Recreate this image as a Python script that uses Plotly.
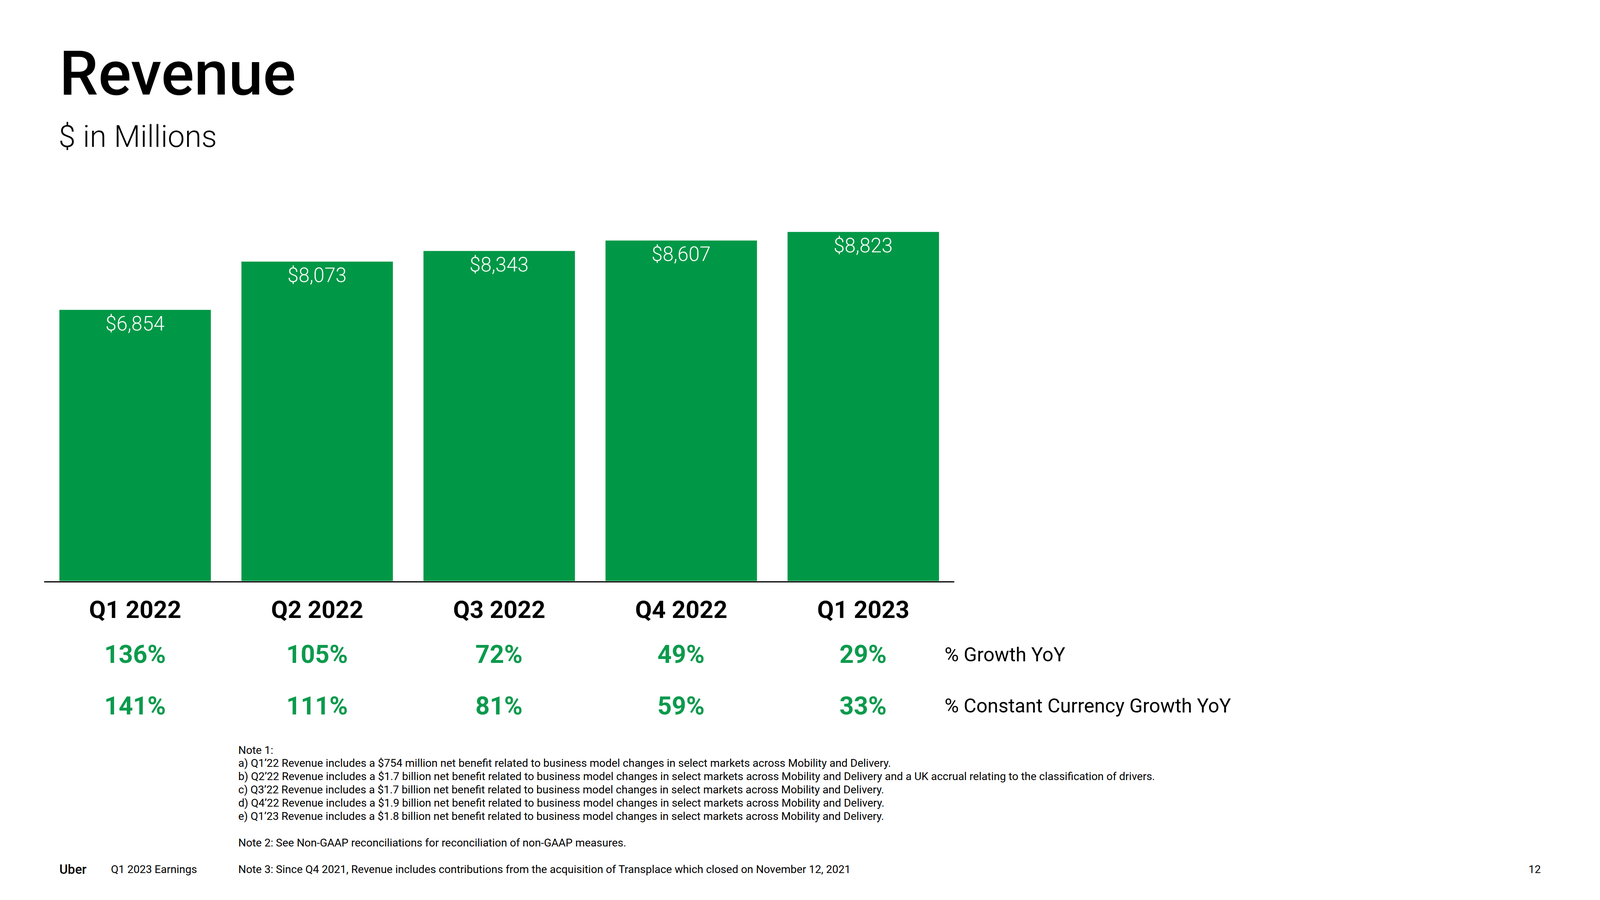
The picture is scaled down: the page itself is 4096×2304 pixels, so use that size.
import plotly.graph_objects as go

# ---------------- data ----------------
categories = ["Q1 2022", "Q2 2022", "Q3 2022", "Q4 2022", "Q1 2023"]
revenue = [6854, 8073, 8343, 8607, 8823]
growth_yoy = [136, 105, 72, 49, 29]
cc_growth_yoy = [141, 111, 81, 59, 33]
row_labels = ["% Growth YoY", "% Constant Currency Growth YoY"]

title = "Revenue"
subtitle = "$ in Millions"
notes = [
    "Note 1:",
    "a) Q1\u201922 Revenue includes a $754 million net benefit related to business model changes in select markets across Mobility and Delivery.",
    "b) Q2\u201922 Revenue includes a $1.7 billion net benefit related to business model changes in select markets across Mobility and Delivery and a UK accrual relating to the classification of drivers.",
    "c) Q3\u201922 Revenue includes a $1.7 billion net benefit related to business model changes in select markets across Mobility and Delivery.",
    "d) Q4\u201922 Revenue includes a $1.9 billion net benefit related to business model changes in select markets across Mobility and Delivery.",
    "e) Q1\u201923 Revenue includes a $1.8 billion net benefit related to business model changes in select markets across Mobility and Delivery.",
    "Note 2: See Non-GAAP reconciliations for reconciliation of non-GAAP measures.",
    "Note 3: Since Q4 2021, Revenue includes contributions from the acquisition of Transplace which closed on November 12, 2021",
]
footer_brand = "Uber"
footer_title = "Q1 2023 Earnings"
page_number = "12"

# ---------------- style ----------------
W, H = 4096, 2304
OFF = 8  # page body margin
GREEN = "#009846"
PCT_GREEN = "#0C9A4D"
FONT = "Roboto"


def py(y_px):
    """page pixel row (from top) -> paper fraction"""
    return (H - (y_px - OFF)) / H


def px_(x_px):
    return (x_px - OFF) / W


fig = go.Figure()
fig.add_trace(
    go.Bar(
        x=categories,
        y=revenue,
        marker=dict(color=GREEN, line=dict(width=0)),
        hoverinfo="skip",
    )
)

annotations = []

# bar value labels
for c, v in zip(categories, revenue):
    annotations.append(dict(
        x=c, y=v, xref="x", yref="y", text=f"${v:,}", showarrow=False,
        xanchor="center", yanchor="middle", yshift=-35,
        font=dict(family=FONT, size=51, color="white", weight=300),
    ))

# category labels and growth rows
for c, g1, g2 in zip(categories, growth_yoy, cc_growth_yoy):
    annotations.append(dict(
        x=c, y=py(1560), xref="x", yref="paper", text=c, showarrow=False,
        xanchor="center", yanchor="middle",
        font=dict(family=FONT, size=62, color="black", weight=700),
    ))
    annotations.append(dict(
        x=c, y=py(1676), xref="x", yref="paper", text=f"{g1}%", showarrow=False,
        xanchor="center", yanchor="middle",
        font=dict(family=FONT, size=64, color=PCT_GREEN, weight=700),
    ))
    annotations.append(dict(
        x=c, y=py(1807), xref="x", yref="paper", text=f"{g2}%", showarrow=False,
        xanchor="center", yanchor="middle",
        font=dict(family=FONT, size=64, color=PCT_GREEN, weight=700),
    ))

for lbl, yy in zip(row_labels, [1676, 1807]):
    annotations.append(dict(
        x=px_(2416), y=py(yy), xref="paper", yref="paper", text=lbl, showarrow=False,
        xanchor="left", yanchor="middle",
        font=dict(family=FONT, size=50, color="black", weight=400),
    ))

# title / subtitle
annotations.append(dict(
    x=px_(150), y=py(188), xref="paper", yref="paper", text=title, showarrow=False,
    xanchor="left", yanchor="middle",
    font=dict(family=FONT, size=158, color="black", weight=500),
))
annotations.append(dict(
    x=px_(148), y=py(349), xref="paper", yref="paper", text=subtitle, showarrow=False,
    xanchor="left", yanchor="middle",
    font=dict(family=FONT, size=78, color="black", weight=300),
))

# notes
note_rows = [2500, 2544, 2588, 2632, 2677, 2721, 2809, 2898]
for t, yy in zip(notes, note_rows):
    annotations.append(dict(
        x=px_(608), y=py(yy * 0.768), xref="paper", yref="paper", text=t, showarrow=False,
        xanchor="left", yanchor="middle",
        font=dict(family=FONT, size=28, color="black", weight=400),
    ))

# footer
annotations.append(dict(
    x=px_(150), y=py(2898 * 0.768), xref="paper", yref="paper", text=footer_brand, showarrow=False,
    xanchor="left", yanchor="middle",
    font=dict(family=FONT, size=33, color="black", weight=500),
))
annotations.append(dict(
    x=px_(282), y=py(2898 * 0.768), xref="paper", yref="paper", text=footer_title, showarrow=False,
    xanchor="left", yanchor="middle",
    font=dict(family=FONT, size=28, color="black", weight=400),
))
annotations.append(dict(
    x=px_(3928), y=py(2898 * 0.768), xref="paper", yref="paper", text=page_number, showarrow=False,
    xanchor="center", yanchor="middle",
    font=dict(family=FONT, size=28, color="black", weight=400),
))

x0, x1 = 112.9, 2443.0
y_base = 1487.6
px_per_unit = 0.10130
y_max = 9400
y_top = y_base - y_max * px_per_unit

fig.update_layout(
    width=W, height=H,
    margin=dict(l=0, r=0, t=0, b=0),
    paper_bgcolor="white", plot_bgcolor="white",
    showlegend=False,
    bargap=0.168,
    annotations=annotations,
    xaxis=dict(
        domain=[(x0 - OFF) / W, (x1 - OFF) / W], range=[-0.5, 4.5],
        showticklabels=False, ticks="", showgrid=False, zeroline=False,
        showline=True, linecolor="black", linewidth=2.5, fixedrange=True,
    ),
    yaxis=dict(
        domain=[py(y_base), py(y_top)], range=[0, y_max],
        visible=False, showgrid=False, zeroline=False, fixedrange=True,
    ),
)

fig.write_html("out.html")
